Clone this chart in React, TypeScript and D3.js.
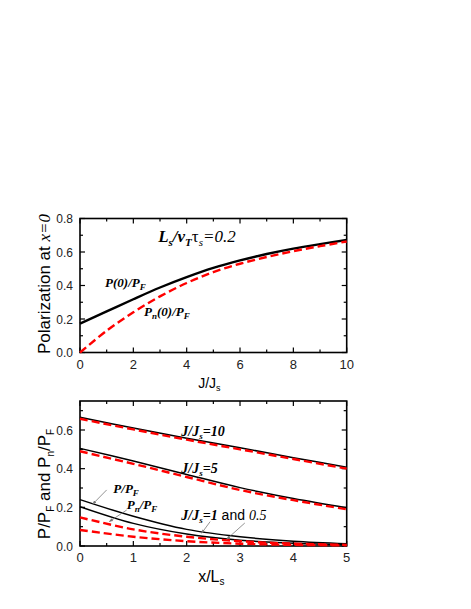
import React, { useEffect, useRef } from 'react';
import * as d3 from 'd3';

// top panel: polarization at x=0 vs J/Js
const jValues = [0, 1, 2, 3, 4, 5, 6, 7, 8, 9, 10];
const pZero = [0.172, 0.245, 0.318, 0.388, 0.45, 0.505, 0.55, 0.588, 0.62, 0.647, 0.672];
const pnZero = [0, 0.13, 0.24, 0.335, 0.415, 0.48, 0.53, 0.57, 0.605, 0.635, 0.663];

// bottom panel: profiles vs x/Ls
const xValues = [0, 1, 2, 3, 4, 5];
const pJ10 = [0.666, 0.61, 0.557, 0.508, 0.457, 0.407];
const pnJ10 = [0.658, 0.603, 0.55, 0.5, 0.45, 0.4];
const pJ5 = [0.505, 0.44, 0.37, 0.302, 0.246, 0.198];
const pnJ5 = [0.49, 0.425, 0.357, 0.29, 0.237, 0.19];
const pJ1 = [0.24, 0.154, 0.086, 0.048, 0.025, 0.012];
const pnJ1 = [0.148, 0.086, 0.048, 0.025, 0.012, 0.006];
const pJ05 = [0.203, 0.117, 0.062, 0.03, 0.014, 0.006];
const pnJ05 = [0.083, 0.048, 0.025, 0.012, 0.006, 0.003];

const topXTicks = [0, 2, 4, 6, 8, 10];
const topYTicks = [0, 0.2, 0.4, 0.6, 0.8];
const botXTicks = [0, 1, 2, 3, 4, 5];
const botYTicks = [0, 0.2, 0.4, 0.6];

const SANS = 'Liberation Sans, Arial, sans-serif';
const SERIF = 'Liberation Serif, Times New Roman, serif';

export default function App() {
  const ref = useRef<SVGSVGElement>(null);

  useEffect(() => {
    const svg = d3.select(ref.current);
    svg.selectAll('*').remove();

    const defs = svg.append('defs');
    defs.append('marker')
      .attr('id', 'arr')
      .attr('viewBox', '0 0 10 10')
      .attr('refX', 9).attr('refY', 5)
      .attr('markerWidth', 5).attr('markerHeight', 5)
      .attr('orient', 'auto')
      .append('path').attr('d', 'M0,1 L10,5 L0,9 z').attr('fill', '#777');

    function frame(x: any, y: any, xMajor: number[], xMinor: number[], yMajor: number[], yMinor: number[]) {
      const [x0, x1] = x.range();
      const [y0, y1] = y.range();
      const g = svg.append('g');
      const tick = (x1a: number, y1a: number, x2a: number, y2a: number) =>
        g.append('line').attr('x1', x1a).attr('y1', y1a).attr('x2', x2a).attr('y2', y2a)
          .attr('stroke', '#000').attr('stroke-width', 1.2);
      xMajor.forEach(v => { tick(x(v), y0, x(v), y0 - 5); tick(x(v), y1, x(v), y1 + 5); });
      xMinor.forEach(v => { tick(x(v), y0, x(v), y0 - 3); tick(x(v), y1, x(v), y1 + 3); });
      yMajor.forEach(v => { tick(x0, y(v), x0 + 5, y(v)); tick(x1, y(v), x1 - 5, y(v)); });
      yMinor.forEach(v => { tick(x0, y(v), x0 + 3, y(v)); tick(x1, y(v), x1 - 3, y(v)); });
      g.append('rect').attr('x', x0).attr('y', y1).attr('width', x1 - x0).attr('height', y0 - y1)
        .attr('fill', 'none').attr('stroke', '#000').attr('stroke-width', 1.6);
      g.selectAll('.xl').data(xMajor).join('text')
        .attr('x', d => x(d)).attr('y', y0 + 16).attr('text-anchor', 'middle')
        .attr('font-family', SANS).attr('font-size', 13).attr('fill', '#222').text(d => String(d));
      g.selectAll('.yl').data(yMajor).join('text')
        .attr('x', x0 - 7).attr('y', d => y(d) + 4.5).attr('text-anchor', 'end')
        .attr('font-family', SANS).attr('font-size', 12).attr('fill', '#222').text(d => d.toFixed(1));
    }

    function curve(x: any, y: any, xs: number[], ys: number[], dashed: boolean, w: number) {
      const line = d3.line<number>().x((_, i) => x(xs[i])).y(d => y(d)).curve(d3.curveCatmullRom.alpha(0.5));
      svg.append('path').attr('d', line(ys)).attr('fill', 'none')
        .attr('stroke', dashed ? '#f00' : '#000').attr('stroke-width', w)
        .attr('stroke-dasharray', dashed ? '8,4' : null);
    }

    // ---------- top panel ----------
    const xt = d3.scaleLinear().domain([0, 10]).range([80, 346.7]);
    const yt = d3.scaleLinear().domain([0, 0.8]).range([352.5, 218.5]);
    frame(xt, yt, topXTicks, [1, 3, 5, 7, 9], topYTicks, [0.1, 0.3, 0.5, 0.7]);
    curve(xt, yt, jValues, pZero, false, 2.4);
    curve(xt, yt, jValues, pnZero, true, 2.4);

    const t1 = svg.append('text').attr('x', xt(2.93)).attr('y', yt(0.66))
      .attr('font-family', SERIF).attr('font-size', 17);
    t1.append('tspan').attr('font-weight', 'bold').attr('font-style', 'italic').text('L');
    t1.append('tspan').attr('font-size', 11).attr('dy', 4).attr('font-style', 'italic').attr('font-weight', 'bold').text('s');
    t1.append('tspan').attr('dy', -4).attr('font-weight', 'bold').attr('font-style', 'italic').text('/v');
    t1.append('tspan').attr('font-size', 11).attr('dy', 4).attr('font-style', 'italic').attr('font-weight', 'bold').text('T');
    t1.append('tspan').attr('dy', -4).text('τ');
    t1.append('tspan').attr('font-size', 11).attr('dy', 4).attr('font-style', 'italic').text('s');
    t1.append('tspan').attr('dy', -4).attr('font-style', 'italic').text('=0.2');

    const t2 = svg.append('text').attr('x', xt(0.94)).attr('y', yt(0.39))
      .attr('font-family', SERIF).attr('font-size', 13).attr('font-weight', 'bold').attr('font-style', 'italic');
    t2.append('tspan').text('P(0)/P');
    t2.append('tspan').attr('font-size', 9).attr('dy', 3).text('F');

    const t3 = svg.append('text').attr('x', xt(2.4)).attr('y', yt(0.218))
      .attr('font-family', SERIF).attr('font-size', 13).attr('font-weight', 'bold').attr('font-style', 'italic');
    t3.append('tspan').text('P');
    t3.append('tspan').attr('font-size', 9).attr('dy', 3).text('n');
    t3.append('tspan').attr('dy', -3).text('(0)/P');
    t3.append('tspan').attr('font-size', 9).attr('dy', 3).text('F');

    const yl1 = svg.append('text').attr('transform', 'translate(50,284) rotate(-90)')
      .attr('text-anchor', 'middle').attr('font-family', SANS).attr('font-size', 17);
    yl1.append('tspan').text('Polarization at ');
    yl1.append('tspan').attr('font-family', SERIF).attr('font-style', 'italic').text('x=0');

    const xl1 = svg.append('text').attr('x', xt(5) - 4).attr('y', 388)
      .attr('text-anchor', 'middle').attr('font-family', SANS).attr('font-size', 14);
    xl1.append('tspan').text('J/J');
    xl1.append('tspan').attr('font-size', 9).attr('dy', 3).text('s');

    // ---------- bottom panel ----------
    const xb = d3.scaleLinear().domain([0, 5]).range([80, 346.7]);
    const yb = d3.scaleLinear().domain([0, 0.75]).range([546, 401]);
    frame(xb, yb, botXTicks, [0.5, 1.5, 2.5, 3.5, 4.5], botYTicks, [0.1, 0.3, 0.5, 0.7]);
    [pJ10, pJ5, pJ1, pJ05].forEach(s => curve(xb, yb, xValues, s, false, 1.5));
    [pnJ10, pnJ5, pnJ1, pnJ05].forEach(s => curve(xb, yb, xValues, s, true, 2.4));

    const jLabel = (xv: number, yv: number, val: string) => {
      const t = svg.append('text').attr('x', xb(xv)).attr('y', yb(yv))
        .attr('font-family', SERIF).attr('font-size', 14).attr('font-weight', 'bold').attr('font-style', 'italic');
      t.append('tspan').text('J/J');
      t.append('tspan').attr('font-size', 9).attr('dy', 3).text('s');
      t.append('tspan').attr('dy', -3).text('=' + val);
      return t;
    };
    jLabel(1.9, 0.569, '10');
    jLabel(1.9, 0.38, '5');
    const j1 = jLabel(1.9, 0.137, '1');
    j1.append('tspan').attr('font-family', SANS).attr('font-weight', 'normal').attr('font-style', 'normal').text(' and ');
    j1.append('tspan').attr('font-weight', 'normal').text('0.5');

    const t4 = svg.append('text').attr('x', xb(0.625)).attr('y', yb(0.274))
      .attr('font-family', SERIF).attr('font-size', 13).attr('font-weight', 'bold').attr('font-style', 'italic');
    t4.append('tspan').text('P/P');
    t4.append('tspan').attr('font-size', 9).attr('dy', 3).text('F');

    const t5 = svg.append('text').attr('x', xb(0.875)).attr('y', yb(0.191))
      .attr('font-family', SERIF).attr('font-size', 13).attr('font-weight', 'bold').attr('font-style', 'italic');
    t5.append('tspan').text('P');
    t5.append('tspan').attr('font-size', 9).attr('dy', 3).text('n');
    t5.append('tspan').attr('dy', -3).text('/P');
    t5.append('tspan').attr('font-size', 9).attr('dy', 3).text('F');

    const leaders = [
      [0.5, 0.29, 0.24, 0.217],
      [0.875, 0.186, 0.55, 0.126],
      [2.44, 0.126, 2.28, 0.066],
      [3.09, 0.119, 2.75, 0.035],
    ];
    leaders.forEach(([a, b, c, d]) => {
      svg.append('line').attr('x1', xb(a)).attr('y1', yb(b)).attr('x2', xb(c)).attr('y2', yb(d))
        .attr('stroke', '#777').attr('stroke-width', 0.8).attr('marker-end', 'url(#arr)');
    });

    const yl2 = svg.append('text').attr('transform', 'translate(50,484) rotate(-90)')
      .attr('text-anchor', 'middle').attr('font-family', SANS).attr('font-size', 17);
    yl2.append('tspan').text('P/P');
    yl2.append('tspan').attr('font-size', 10).attr('dy', 4).text('F');
    yl2.append('tspan').attr('dy', -4).text(' and P');
    yl2.append('tspan').attr('font-size', 10).attr('dy', 4).text('n');
    yl2.append('tspan').attr('dy', -4).text('/P');
    yl2.append('tspan').attr('font-size', 10).attr('dy', 4).text('F');

    const xl2 = svg.append('text').attr('x', xb(2.5) - 2).attr('y', 582)
      .attr('text-anchor', 'middle').attr('font-family', SANS).attr('font-size', 16);
    xl2.append('tspan').text('x/L');
    xl2.append('tspan').attr('font-size', 10).attr('dy', 3).text('s');
  }, []);

  return (
    <div style={{ position: 'absolute', left: 0, top: 0, width: 471, height: 609, background: '#fff' }}>
      <svg ref={ref} width={471} height={609} style={{ display: 'block' }} />
    </div>
  );
}
